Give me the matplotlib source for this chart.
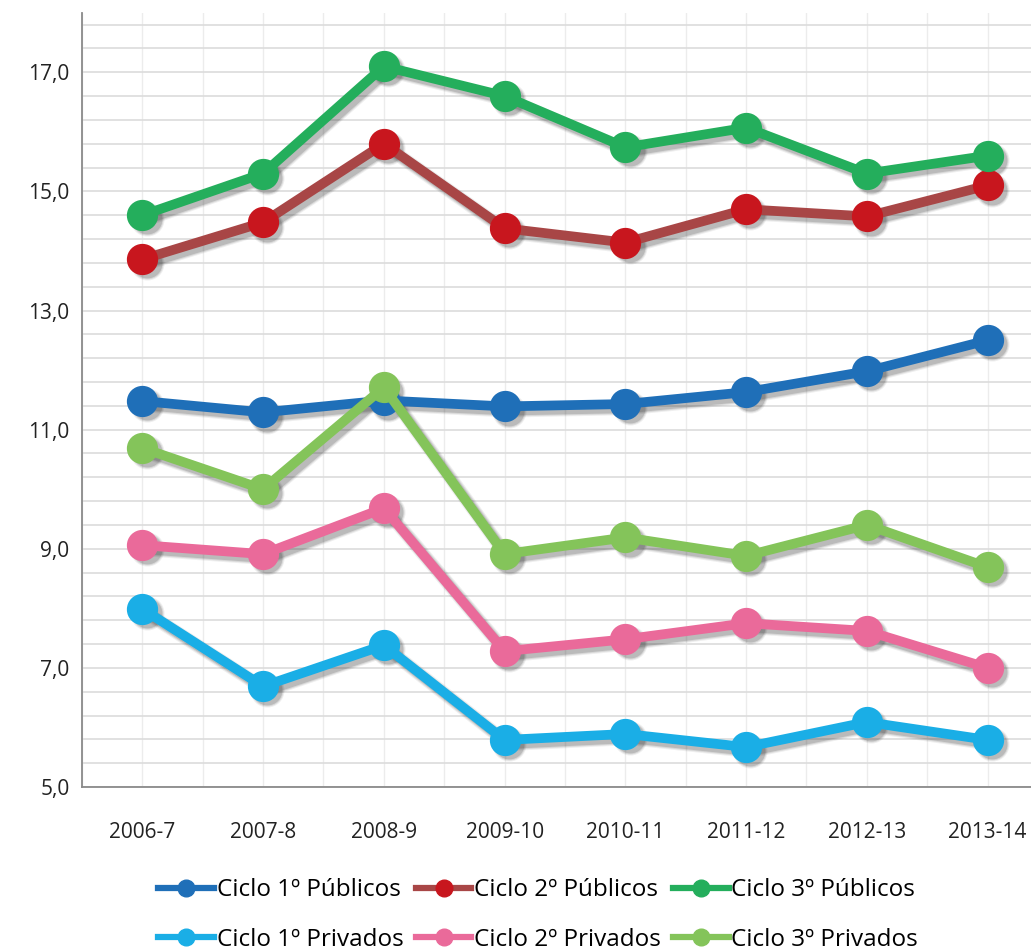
import matplotlib.pyplot as plt
import matplotlib.transforms as mtransforms
import numpy as np

# -----------------------------
# DATA
# -----------------------------

anos = ["2006-7", "2007-8", "2008-9", "2009-10", "2010-11", "2011-12", "2012-13", "2013-14"]

ciclo1_publicos = [11.48, 11.29, 11.49, 11.39, 11.43, 11.63, 11.98, 12.50]
ciclo2_publicos = [13.86, 14.48, 15.80, 14.38, 14.14, 14.70, 14.58, 15.10]
ciclo3_publicos = [14.60, 15.30, 17.10, 16.60, 15.74, 16.07, 15.30, 15.60]
ciclo1_privados = [7.99, 6.69, 7.38, 5.79, 5.89, 5.67, 6.09, 5.79]
ciclo2_privados = [9.06, 8.91, 9.68, 7.28, 7.48, 7.75, 7.62, 7.00]
ciclo3_privados = [10.69, 10.00, 11.71, 8.91, 9.19, 8.88, 9.40, 8.69]

series = [
    ("Ciclo 1º Públicos", ciclo1_publicos, "#1f6fb8", "#1f6fb8"),
    ("Ciclo 2º Públicos", ciclo2_publicos, "#a84646", "#c8161e"),
    ("Ciclo 3º Públicos", ciclo3_publicos, "#24ae5c", "#24ae5c"),
    ("Ciclo 1º Privados", ciclo1_privados, "#1aaee6", "#1aaee6"),
    ("Ciclo 2º Privados", ciclo2_privados, "#ea6a9a", "#ea6a9a"),
    ("Ciclo 3º Privados", ciclo3_privados, "#84c45a", "#84c45a"),
]

plt.rcParams["font.family"] = ["Open Sans", "DejaVu Sans"]

fig = plt.figure(figsize=(10.31, 9.5), dpi=100)
ax = fig.add_axes([0.0795, 0.1716, 0.937, 0.815])

x = np.arange(len(anos))

# soft drop shadow, offset down-right
shadow_tr = mtransforms.offset_copy(ax.transData, fig=fig, x=3, y=-3, units="points")

handles = {}
for nome, vals, lc, mc in series:
    for lw_extra, a in [(3, 0.08), (1.5, 0.12), (0, 0.18)]:
        ax.plot(x, vals, color="#333333", alpha=a, linewidth=7 + lw_extra,
                marker="o", markersize=21.5 + lw_extra, markeredgewidth=0,
                transform=shadow_tr, zorder=2)
    h, = ax.plot(x, vals, color=lc, linewidth=7, marker="o", markersize=21.5,
                 markerfacecolor=mc, markeredgecolor=mc, label=nome,
                 solid_capstyle="round", zorder=3)
    handles[nome] = h

ax.set_xlim(-0.5, 7.5)
ax.set_ylim(5, 18)

ax.set_yticks(np.arange(5, 18, 2))
ax.set_yticklabels([f"{v:.1f}".replace(".", ",") for v in np.arange(5, 18, 2)])
ax.set_yticks(np.arange(5.4, 17.9, 0.4), minor=True)
ax.set_xticks(x)
ax.set_xticklabels(anos)
ax.set_xticks(np.arange(-0.5, 7.6, 0.5), minor=True)

ax.tick_params(axis="both", which="both", length=0, labelsize=15, colors="#222222")
ax.tick_params(axis="x", pad=25)
ax.tick_params(axis="y", pad=9)

ax.grid(axis="y", which="both", color="#dcdcdc", linewidth=1.2)
ax.grid(axis="x", which="both", color="#ececec", linewidth=1.0)
ax.set_axisbelow(True)

for s in ["top", "right"]:
    ax.spines[s].set_visible(False)
for s in ["left", "bottom"]:
    ax.spines[s].set_color("#8a8a8a")
    ax.spines[s].set_linewidth(1.3)

# legend: row 1 Publicos, row 2 Privados
ordem = ["Ciclo 1º Públicos", "Ciclo 1º Privados",
         "Ciclo 2º Públicos", "Ciclo 2º Privados",
         "Ciclo 3º Públicos", "Ciclo 3º Privados"]
leg_handles = []
for nome in ordem:
    h = handles[nome]
    lh, = ax.plot([], [], color=h.get_color(), linewidth=4.5, marker="o",
                  markersize=12, markerfacecolor=h.get_markerfacecolor(),
                  markeredgecolor=h.get_markerfacecolor())
    leg_handles.append(lh)

fig.legend(leg_handles, ordem, loc="center", bbox_to_anchor=(0.522, 0.037),
           ncol=3, frameon=False, fontsize=17.5, handlelength=2.3,
           handletextpad=0.1, columnspacing=0.5, labelspacing=1.05)

plt.savefig("out.png", dpi=100)
